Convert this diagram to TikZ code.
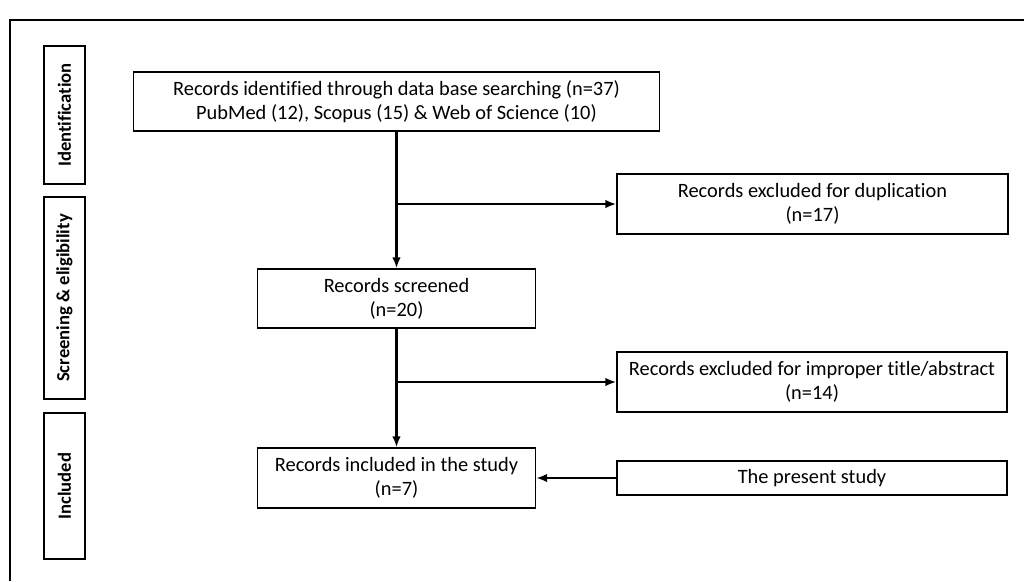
\documentclass[tikz,border=0pt]{standalone}
\usepackage{fontspec}
\setmainfont[Ligatures=NoCommon]{Carlito}
\usetikzlibrary{positioning,arrows.meta}
\begin{document}
\begin{tikzpicture}[box/.style={draw,line width=0.7pt,align=center,inner sep=0pt,font=\fontsize{11.6}{13.8}\selectfont},
  side/.style={draw,line width=0.7pt,rotate=90,minimum height=0.82cm,inner sep=0pt,font=\bfseries\fontsize{10.6}{12}\selectfont},
  link/.style={line width=1.3pt,-{Latex[length=2.2mm,width=1.7mm]}}]
  \useasboundingbox (0,0) rectangle (20.48,-11.62);
  \draw[line width=0.7pt] (0.2,-11.62) -- (0.2,-0.4) -- (20.48,-0.4);
  % stages
  \node (s1) [side,minimum width=2.76cm] at (1.29,-2.30) {Identification};
  \node (s2) [side,minimum width=4.04cm] at (1.29,-5.96) {Screening \& eligibility};
  \node (s3) [side,minimum width=2.92cm] at (1.29,-9.72) {Included};
  % main flow
  \node (id) [box,minimum width=10.52cm,minimum height=1.18cm] at (7.93,-2.03) {Records identified through data base searching (n=37)\\PubMed (12), Scopus (15) \& Web of Science (10)};
  \node (scr) [box,minimum width=5.56cm,minimum height=1.18cm] at (7.93,-5.97) {Records screened\\(n=20)};
  \node (inc) [box,minimum width=5.56cm,minimum height=1.2cm] at (7.93,-9.56) {Records included in the study\\(n=7)};
  \node (dup) [box,minimum width=7.82cm,minimum height=1.2cm] at (16.25,-4.08) {Records excluded for duplication\\(n=17)};
  \node (imp) [box,minimum width=7.8cm,minimum height=1.2cm] at (16.24,-7.64) {Records excluded for improper title/abstract\\(n=14)};
  \node (pres) [box,minimum width=7.8cm,minimum height=0.68cm] at (16.24,-9.56) {The present study};
  \draw[link] (id) -- (scr);
  \draw[link] (scr) -- (inc);
  \draw[link] (id.south |- dup.west) -- (dup.west);
  \draw[link] (scr.south |- imp.west) -- (imp.west);
  \draw[link] (pres) -- (inc);
\end{tikzpicture}
\end{document}
